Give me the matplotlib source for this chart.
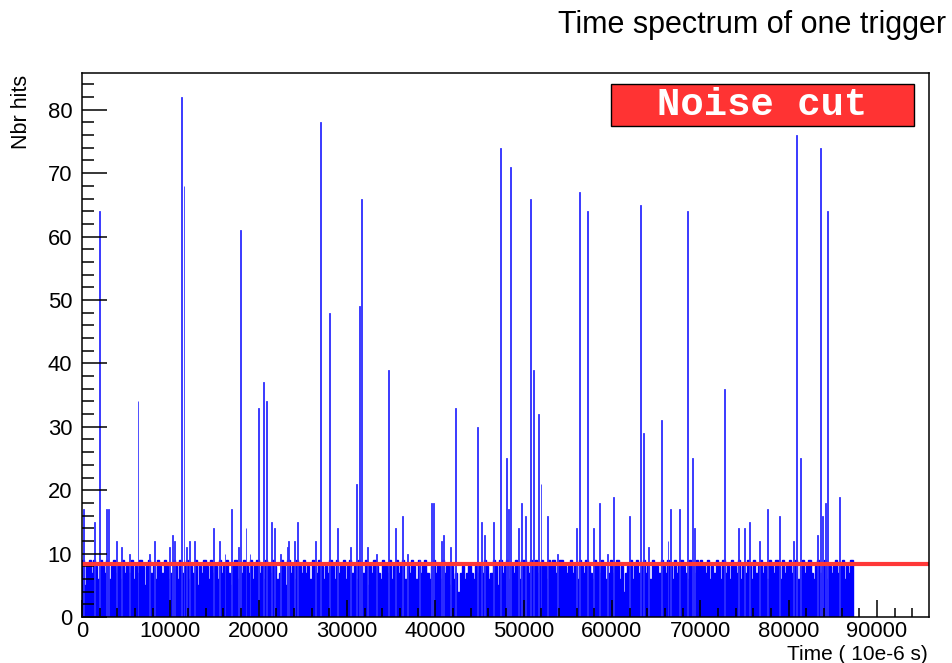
import numpy as np
import matplotlib
matplotlib.use("Agg")
import matplotlib.pyplot as plt
from matplotlib.patches import Rectangle
from matplotlib.ticker import MultipleLocator

plt.rcParams['font.family'] = ['Liberation Sans', 'DejaVu Sans']

# noise floor, one value per 250 time units (0 .. 87250)
bin_width = 250
noise = [
    9, 5, 8, 9, 7, 9, 8, 6, 9, 8, 7, 9, 6, 8, 9, 7, 8, 6, 9, 7,
    8, 7, 9, 6, 8, 7, 9, 8, 5, 8, 9, 7, 8, 6, 9, 8, 7, 9, 8, 6,
    7, 9, 8, 6, 9, 7, 8, 9, 6, 8, 7, 9, 5, 8, 7, 9, 8, 6, 9, 7,
    8, 6, 9, 7, 8, 9, 7, 5, 8, 9, 6, 8, 7, 9, 8, 7, 9, 6, 8, 9,
    7, 8, 6, 9, 8, 7, 9, 8, 6, 7, 9, 8, 5, 9, 7, 8, 6, 9, 8, 7,
    9, 7, 8, 6, 9, 8, 7, 9, 8, 6, 8, 7, 9, 8, 6, 9, 7, 8, 9, 6,
    8, 9, 7, 8, 6, 9, 8, 7, 9, 5, 8, 7, 9, 8, 7, 6, 9, 8, 7, 9,
    6, 8, 9, 7, 8, 9, 6, 8, 7, 9, 8, 6, 9, 7, 8, 9, 7, 6, 8, 9,
    7, 8, 6, 9, 7, 8, 5, 8, 6, 7, 4, 7, 8, 6, 7, 8, 7, 6, 8, 7,
    8, 7, 9, 8, 6, 7, 9, 8, 5, 9, 7, 8, 9, 6, 8, 7, 9, 8, 6, 9,
    9, 8, 7, 9, 8, 9, 7, 8, 9, 8, 6, 9, 8, 9, 7, 8, 9, 9, 8, 7,
    8, 9, 7, 8, 6, 9, 8, 7, 9, 8, 7, 6, 9, 8, 7, 9, 8, 6, 7, 9,
    7, 8, 9, 6, 8, 4, 7, 8, 9, 6, 8, 9, 7, 8, 9, 7, 8, 6, 9, 8,
    8, 7, 9, 8, 7, 9, 8, 6, 9, 7, 8, 9, 8, 7, 6, 9, 8, 7, 9, 8,
    9, 8, 7, 9, 6, 8, 7, 9, 8, 6, 9, 7, 8, 6, 9, 8, 7, 9, 6, 8,
    7, 9, 8, 6, 9, 7, 8, 9, 7, 8, 6, 9, 8, 7, 9, 8, 6, 9, 7, 8,
    9, 7, 8, 9, 6, 8, 9, 7, 8, 9, 7, 6, 8, 9, 7, 8, 9, 6, 8, 7,
    8, 9, 7, 8, 9, 6, 8, 7, 9,
]

# bins standing above the noise floor (time, hits)
spike_t = [150, 1440, 2000, 2750, 3020, 3890, 4450, 5400, 6340, 7660,
           8230, 9930, 10300, 10490, 11240, 11550, 11810, 12190, 12760, 14870,
           15620, 16190, 16950, 17700, 18000, 18570, 19020, 19960, 20530, 20910,
           21480, 21770, 22420, 23240, 23430, 24110, 24420, 26490, 27020, 28000,
           28900, 30450, 31100, 31470, 31700, 32300, 33360, 34750, 35550, 36260,
           36870, 38180, 39590, 39790, 40720, 40940, 41770, 42340, 44790, 45250,
           45620, 46640, 47360, 48040, 48250, 48570, 49400, 49770, 50230, 50800,
           51140, 51670, 51970, 52670, 53880, 56000, 56310, 57180, 57960, 58560,
           59500, 60220, 61960, 63220, 63520, 64180, 65640, 66350, 66640, 67620,
           68580, 69070, 69320, 72790, 74300, 75050, 75540, 76750, 77620, 79010,
           80520, 80900, 81360, 83280, 83620, 83880, 84190, 84370, 85800]
spike_h = [17, 15, 64, 17, 17, 12, 11, 10, 34, 10,
           12, 11, 13, 12, 82, 68, 11, 12, 12, 14,
           12, 10, 17, 11, 61, 14, 10, 33, 37, 34,
           15, 14, 10, 11, 12, 12, 15, 12, 78, 48,
           14, 11, 21, 49, 66, 11, 10, 39, 14, 16,
           10, 9, 18, 18, 12, 13, 11, 33, 30, 15,
           13, 15, 74, 25, 17, 71, 14, 18, 16, 66,
           39, 32, 21, 16, 10, 14, 67, 64, 14, 18,
           10, 19, 16, 65, 29, 11, 31, 12, 17, 17,
           64, 25, 14, 36, 14, 14, 15, 12, 17, 16,
           12, 76, 25, 13, 74, 16, 18, 64, 19]

noise_cut = 8.3

x_max = 95900
y_max = 85.8

fig = plt.figure(figsize=(9.53, 6.63), dpi=100)
ax = fig.add_axes([82 / 953, 1 - 617 / 663, 847 / 953, 544 / 663])

edges = np.arange(len(noise) + 1) * bin_width
ax.stairs(noise, edges, fill=True, color='#0000ff', linewidth=0)
ax.stairs(noise, edges, fill=False, color='#0000ff', linewidth=1.0)
ax.bar(spike_t, spike_h, width=110, align='center', color='#0000ff',
       edgecolor='#3333ff', linewidth=0.6)

ax.axhline(noise_cut, color='#ff3838', linewidth=3.0)

ax.set_xlim(0, x_max)
ax.set_ylim(0, y_max)

ax.xaxis.set_major_locator(MultipleLocator(10000))
ax.xaxis.set_minor_locator(MultipleLocator(2000))
ax.yaxis.set_major_locator(MultipleLocator(10))
ax.yaxis.set_minor_locator(MultipleLocator(2))

ax.tick_params(axis='both', which='both', direction='in', width=1.1,
               top=False, right=False, labelsize=15.8)
ax.tick_params(axis='x', which='major', length=12, pad=3)
ax.tick_params(axis='x', which='minor', length=6.5)
ax.tick_params(axis='y', which='major', length=18, pad=7)
ax.tick_params(axis='y', which='minor', length=8.6)
for s in ax.spines.values():
    s.set_linewidth(1.1)

# noise cut label box
ax.add_patch(Rectangle((0.6246, 0.9026), 0.3577, 0.0772, transform=ax.transAxes,
                       facecolor='#ff3333', edgecolor='black', linewidth=1.0,
                       zorder=5))
ax.text(0.8034, 0.941, 'Noise cut', transform=ax.transAxes, ha='center',
        va='center', color='white', fontsize=28, fontweight='bold',
        family=['Liberation Mono', 'DejaVu Sans Mono'], zorder=6)

fig.text(946 / 953, 1 - 25 / 663, 'Time spectrum of one trigger', ha='right',
         va='center', fontsize=22)
fig.text(928 / 953, 1 - 654 / 663, 'Time ( 10e-6 s)', ha='right', va='center',
         fontsize=15)
fig.text(22 / 953, 1 - 75 / 663, 'Nbr hits', ha='center', va='top',
         rotation=90, fontsize=15.5)

fig.savefig('out.png', dpi=100)
